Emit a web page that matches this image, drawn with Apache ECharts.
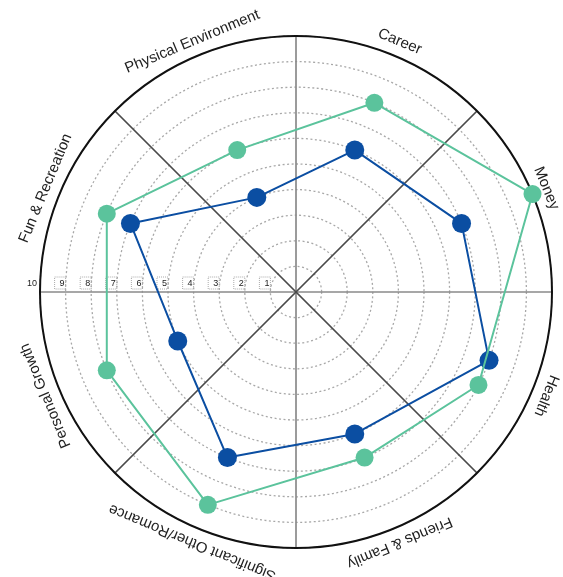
<!DOCTYPE html>
<html>
<head>
<meta charset="utf-8">
<script src="https://cdn.jsdelivr.net/npm/echarts@6/dist/echarts.min.js"></script>
<style>
  html, body { margin: 0; padding: 0; background: #fff; }
  #chart { width: 563px; height: 577px; }
</style>
</head>
<body>
<div id="chart"></div>
<script>
// Life areas, listed clockwise starting from the left horizontal spoke
const categories = ['Fun & Recreation', 'Physical Environment', 'Career', 'Money',
  'Health', 'Friends & Family', 'Significant Other/Romance', 'Personal Growth'];
// Scores (0-10) for each area
const greenScores = [8, 6, 8, 10, 8, 7, 9, 8];
const blueScores  = [7, 4, 6, 7, 8, 6, 7, 5];
// Ring labels along the left spoke
const ringLabels = ['1', '2', '3', '4', '5', '6', '7', '8', '9', '10'];

const GREEN = '#5bc39c';
const BLUE = '#0b4ea2';
const CENTER = [296, 292];
const RADIUS = 256;

// Angle (degrees on a 0-360 axis) at the middle of each sector
function sectorAngle(i) { return (i + 0.5) * 360 / categories.length; }

// Points with equal scores in the same sector are pulled apart a little
function seriesPoints(scores, other, nudge) {
  const pts = scores.map((v, i) => [v, sectorAngle(i) + (v === other[i] ? nudge : 0)]);
  pts.push({ value: pts[0].slice(), symbol: 'none' });
  return pts;
}

const chart = echarts.init(document.getElementById('chart'), null, { renderer: 'canvas' });

chart.setOption({
  backgroundColor: '#fff',
  animation: false,
  polar: [
    { center: CENTER, radius: RADIUS },
    { center: CENTER, radius: RADIUS }
  ],
  angleAxis: [
    {
      polarIndex: 0,
      type: 'category',
      data: categories,
      startAngle: 180,
      clockwise: true,
      boundaryGap: true,
      axisLine: { show: true, lineStyle: { color: '#111', width: 2 } },
      axisTick: { show: false },
      axisLabel: { show: false },
      splitLine: { show: true, lineStyle: { color: ['#8a8a8a', '#4a4a4a'], width: 1.7 } },
      z: 2
    },
    {
      polarIndex: 1,
      type: 'value',
      min: 0,
      max: 360,
      startAngle: 180,
      clockwise: true,
      axisLine: { show: false },
      axisTick: { show: false },
      axisLabel: { show: false },
      splitLine: { show: false }
    }
  ],
  radiusAxis: [
    {
      polarIndex: 0,
      type: 'value',
      min: 0,
      max: 10,
      interval: 1,
      axisLine: { show: false },
      axisTick: { show: false },
      axisLabel: {
        show: true,
        margin: -3,
        align: 'right',
        verticalAlign: 'bottom',
        formatter: function (v) {
          if (v === 0) return '';
          const t = ringLabels[v - 1];
          return v === 10 ? '{plain|' + t + '}' : '{box|' + t + '}';
        },
        rich: {
          plain: { fontSize: 9, color: '#222', fontFamily: 'Liberation Sans', padding: [0, 3, 1, 0] },
          box: {
            fontSize: 9, color: '#222', fontFamily: 'Liberation Sans',
            borderColor: '#aaa', borderWidth: 1, borderType: 'dotted',
            padding: [2, 1, 1, 5]
          }
        }
      },
      splitLine: { show: true, lineStyle: { color: '#a8a8a8', width: 1.3, type: [2, 2.5] } },
      z: 1
    },
    {
      polarIndex: 1,
      type: 'value',
      min: 0,
      max: 10,
      axisLine: { show: false },
      axisTick: { show: false },
      axisLabel: { show: false },
      splitLine: { show: false }
    }
  ],
  series: [
    {
      name: 'blue',
      type: 'line',
      coordinateSystem: 'polar',
      polarIndex: 1,
      clip: false,
      data: seriesPoints(blueScores, greenScores, -3),
      symbol: 'circle',
      symbolSize: 19,
      lineStyle: { color: BLUE, width: 2 },
      itemStyle: { color: BLUE },
      z: 3
    },
    {
      name: 'green',
      type: 'line',
      coordinateSystem: 'polar',
      polarIndex: 1,
      clip: false,
      data: seriesPoints(greenScores, blueScores, 4.5),
      symbol: 'circle',
      symbolSize: 18,
      lineStyle: { color: GREEN, width: 2 },
      itemStyle: { color: GREEN },
      z: 4
    },
    {
      // Area names written along the rim
      name: 'areas',
      type: 'custom',
      coordinateSystem: 'polar',
      polarIndex: 1,
      data: categories.map((c, i) => [10, sectorAngle(i)]),
      renderItem: function (params, api) {
        const cs = params.coordSys;
        const p = api.coord([api.value(0), api.value(1)]);
        const dx = p[0] - cs.cx, dy = p[1] - cs.cy;
        const len = Math.hypot(dx, dy);
        const R = cs.r + 15;
        const theta = Math.atan2(-dy, dx);
        return {
          type: 'text',
          x: cs.cx + dx / len * R,
          y: cs.cy + dy / len * R,
          rotation: theta - Math.PI / 2,
          style: {
            text: categories[params.dataIndex],
            fill: '#222',
            font: '15px "Liberation Sans", Arial, sans-serif',
            align: 'center',
            verticalAlign: 'middle'
          }
        };
      },
      silent: true,
      z: 5
    }
  ]
});
</script>
</body>
</html>
